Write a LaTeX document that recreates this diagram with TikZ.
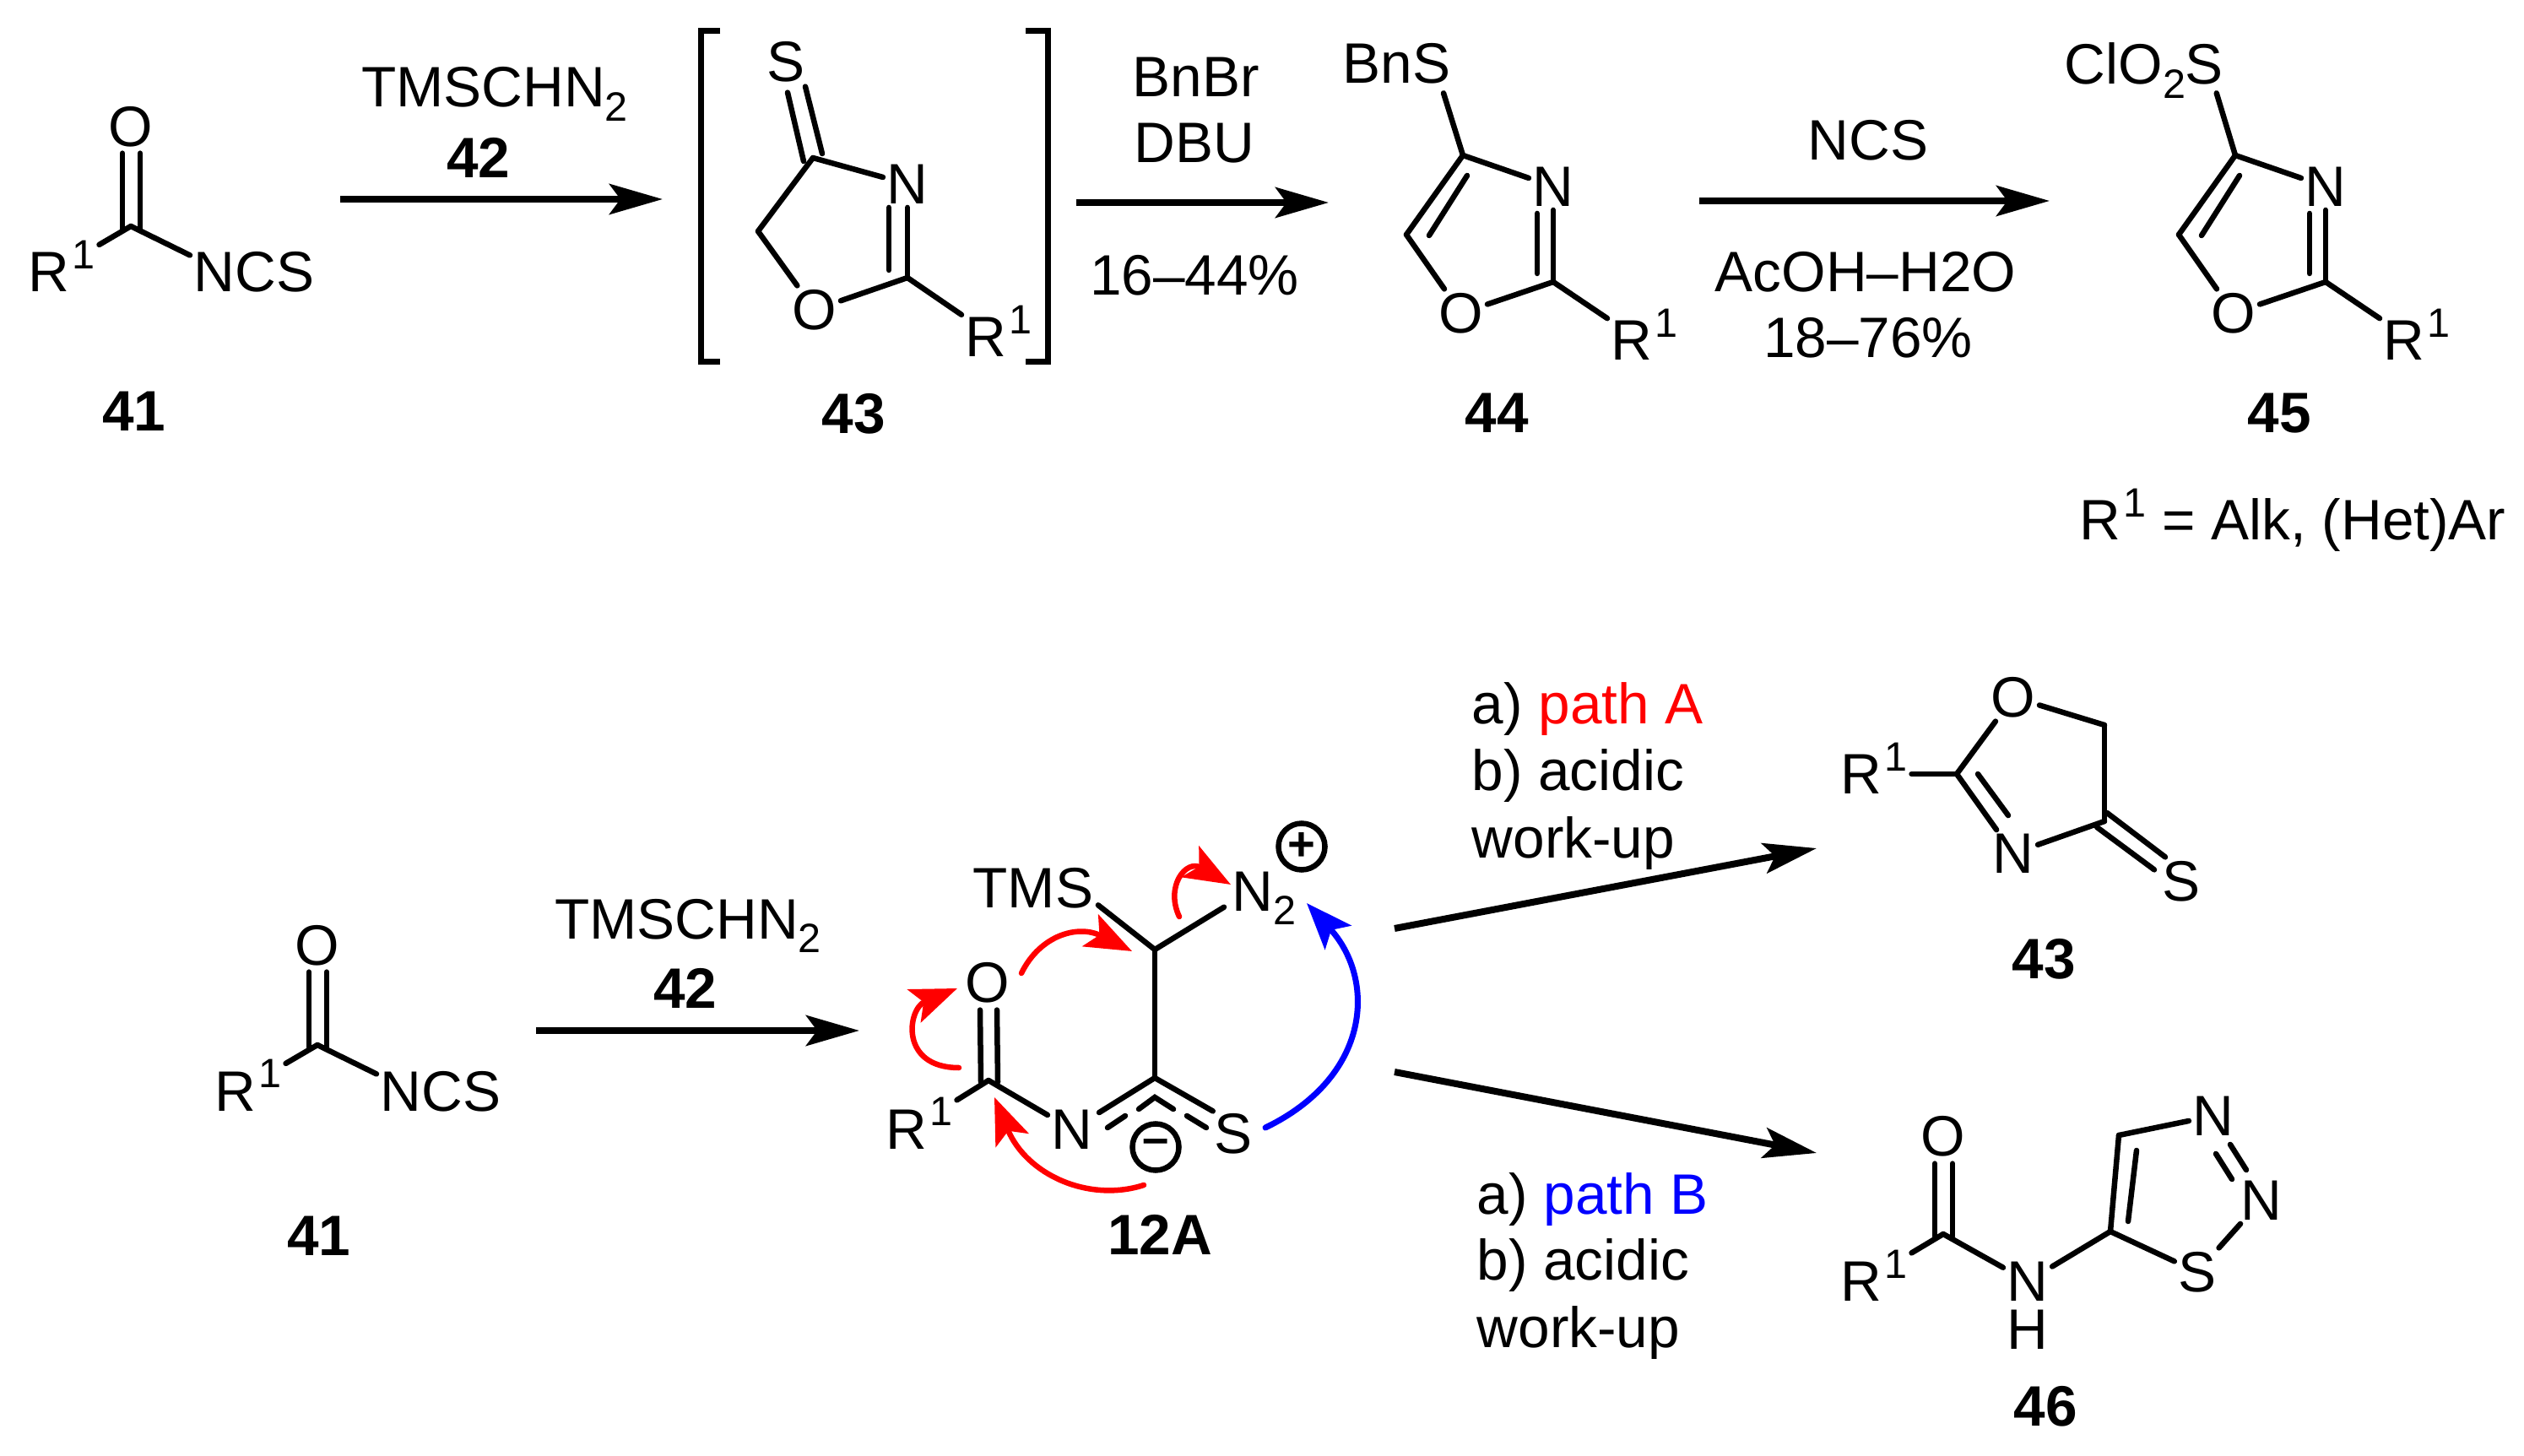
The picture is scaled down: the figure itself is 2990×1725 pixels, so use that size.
\documentclass[tikz,border=0pt]{standalone}
\usepackage{fontspec}
\setmainfont{Liberation Sans}
\usetikzlibrary{arrows.meta,calc}
\tikzset{>=latex}
\newcommand{\chemfont}{\fontsize{19.2}{23}\selectfont}
\newcommand{\supone}{\raisebox{0.4em}{\fontsize{13.8}{14}\selectfont 1}}
\newcommand{\Rone}{R\rlap{\kern0.05em\supone}}
\newcommand{\RoneW}{R\kern0.05em\supone}
\newcommand{\subtwo}{\smash{\raisebox{-0.25em}{\fontsize{13.8}{14}\selectfont 2}}}

\begin{document}
\begin{tikzpicture}[x=0.01cm,y=-0.01cm,font=\chemfont]

        % Setup the styles
        \tikzset{atom style/.style={inner sep=0.04cm},
                 bond style/.style={line width=0.065cm,line cap=round,draw=black},
                 text style/.style={inner sep=0,anchor=base},
                 line style/.style={inner sep=0,anchor=base west},
                 label style/.style={inner sep=0,anchor=base,font=\chemfont\bfseries},
                 charge style/.style={circle,draw=black,line width=0.065cm,inner sep=0,minimum size=0.55cm,font=\fontsize{16}{16}\selectfont\bfseries},
                 bracket style/.style={line width=0.07cm,draw=black},
                 rxn arrow/.style={line width=0.08cm,draw=black,-{Stealth[length=0.63cm,width=0.36cm,inset=0.13cm]}},
                 curly arrow/.style={line width=0.065cm,line cap=round,-{Stealth[length=0.55cm,width=0.42cm,inset=0.12cm]}}}

        \useasboundingbox (0,0) rectangle (2990,1725);

        % Draw compound 41, upper scheme
        \coordinate (c1a) at (155,268);
        \node[atom style] at (155,150) (o1a) {O};
        \node[atom style,anchor=base west] at (29,346) (r1a) {\RoneW};
        \node[atom style,anchor=base west] at (225,346) (ncs1a) {NCS};
        \node[label style] at (159,511) (l41a) {41};
        \draw[bond style] (c1a) -- (r1a);
        \draw[bond style] (c1a) -- (ncs1a.165);
        \draw[bond style] ([shift={(-10,3)}]c1a) -- ([shift={(-10,3)}]o1a.south);
        \draw[bond style] ([shift={(11,3)}]c1a) -- ([shift={(11,3)}]o1a.south);

        % First arrow
        \coordinate (a1s) at (403,236);
        \coordinate (a1e) at (785,236);
        \draw[rxn arrow] (a1s) -- (a1e);
        \node[text style] at (586,127) (t1a) {TMSCHN\subtwo};
        \node[label style] at (567,211) (t1b) {42};

        % Draw compound 43 in brackets
        \draw[bracket style] (853,37) -- (830,37) -- (830,429) -- (853,429);
        \draw[bracket style] (1215,37) -- (1241,37) -- (1241,429) -- (1215,429);
        \coordinate (c4a) at (963,187);
        \coordinate (c5a) at (898,274);
        \coordinate (c2a) at (1075,329);
        \node[atom style] at (931,73) (s1a) {S};
        \node[atom style] at (1075,218) (n3a) {N};
        \node[atom style] at (965,367) (o2a) {O};
        \node[atom style,anchor=base west] at (1139,423) (r2a) {\Rone};
        \node[label style] at (1011,514) (l43a) {43};
        \draw[bond style] (c4a) -- (n3a);
        \draw[bond style] (c4a) -- (c5a);
        \draw[bond style] (c5a) -- (o2a);
        \draw[bond style] (o2a) -- (c2a);
        \draw[bond style] (c2a) -- (n3a.south);
        \draw[bond style] ([shift={(-22,-9)}]c2a) -- ([shift={(-22,0)}]n3a.south);
        \draw[bond style] (c2a) -- (r2a);
        \draw[bond style] ([shift={(-11,4)}]c4a) -- ([shift={(2,8)}]s1a.south);
        \draw[bond style] ([shift={(11,-5)}]c4a) -- ([shift={(23,1)}]s1a.south);

        % Second arrow
        \coordinate (a2s) at (1275,240);
        \coordinate (a2e) at (1574,240);
        \draw[rxn arrow] (a2s) -- (a2e);
        \node[text style] at (1417,115) (t2a) {BnBr};
        \node[text style] at (1415,193) (t2b) {DBU};
        \node[text style] at (1415,350) (t2c) {16–44\%};

        % Draw compound 44
        \coordinate (c4b) at (1733,184);
        \coordinate (c5b) at (1666,278);
        \coordinate (c2b) at (1840,334);
        \node[atom style,anchor=base west] at (1586,99) (s1b) {BnS};
        \node[atom style] at (1840,221) (n3b) {N};
        \node[atom style] at (1731,371) (o2b) {O};
        \node[atom style,anchor=base west] at (1904,427) (r2b) {\Rone};
        \node[label style] at (1773,513) (l44) {44};
        \draw[bond style] (c4b) -- ([shift={(-13,6)}]s1b.south east);
        \draw[bond style] (c4b) -- (n3b);
        \draw[bond style] (c4b) -- (c5b);
        \draw[bond style] ([shift={(5,24)}]c4b) -- ([shift={(27,1)}]c5b);
        \draw[bond style] (c5b) -- (o2b);
        \draw[bond style] (o2b) -- (c2b);
        \draw[bond style] (c2b) -- (n3b.south);
        \draw[bond style] ([shift={(-19,-10)}]c2b) -- ([shift={(-19,4)}]n3b.south);
        \draw[bond style] (c2b) -- (r2b);

        % Third arrow
        \coordinate (a3s) at (2013,238);
        \coordinate (a3e) at (2428,238);
        \draw[rxn arrow] (a3s) -- (a3e);
        \node[text style] at (2213,190) (t3a) {NCS};
        \node[text style] at (2210,346) (t3b) {AcOH–H2O};
        \node[text style] at (2213,424) (t3c) {18–76\%};

        % Draw compound 45
        \coordinate (c4c) at (2648,184);
        \coordinate (c5c) at (2581,278);
        \coordinate (c2c) at (2755,334);
        \node[atom style,anchor=base west] at (2441,100) (s1c) {ClO\subtwo S};
        \node[atom style] at (2755,221) (n3c) {N};
        \node[atom style] at (2646,371) (o2c) {O};
        \node[atom style,anchor=base west] at (2819,427) (r2c) {\Rone};
        \node[label style] at (2700,513) (l45) {45};
        \draw[bond style] (c4c) -- ([shift={(-13,5)}]s1c.south east);
        \draw[bond style] (c4c) -- (n3c);
        \draw[bond style] (c4c) -- (c5c);
        \draw[bond style] ([shift={(5,24)}]c4c) -- ([shift={(27,1)}]c5c);
        \draw[bond style] (c5c) -- (o2c);
        \draw[bond style] (o2c) -- (c2c);
        \draw[bond style] (c2c) -- (n3c.south);
        \draw[bond style] ([shift={(-19,-10)}]c2c) -- ([shift={(-19,4)}]n3c.south);
        \draw[bond style] (c2c) -- (r2c);
        \node[text style] at (2716,640) (def) {\RoneW{} = Alk, (Het)Ar};

        % Draw compound 41, lower scheme
        \coordinate (c1b) at (376,1238);
        \node[atom style] at (376,1120) (o1d) {O};
        \node[atom style,anchor=base west] at (250,1316) (r1d) {\RoneW};
        \node[atom style,anchor=base west] at (446,1316) (ncs1d) {NCS};
        \node[label style] at (378,1487) (l41b) {41};
        \draw[bond style] (c1b) -- (r1d);
        \draw[bond style] (c1b) -- (ncs1d.165);
        \draw[bond style] ([shift={(-10,3)}]c1b) -- ([shift={(-10,3)}]o1d.south);
        \draw[bond style] ([shift={(11,3)}]c1b) -- ([shift={(11,3)}]o1d.south);

        % Fourth arrow
        \coordinate (a4s) at (635,1221);
        \coordinate (a4e) at (1018,1221);
        \draw[rxn arrow] (a4s) -- (a4e);
        \node[text style] at (815,1112) (t4a) {TMSCHN\subtwo};
        \node[label style] at (812,1194) (t4b) {42};

        % Draw intermediate 12A
        \coordinate (cm1) at (1368,1125);
        \coordinate (cm2) at (1368,1277);
        \coordinate (cm3) at (1171,1280);
        \node[atom style,anchor=base west] at (1148,1075) (tms) {TMS};
        \node[atom style,anchor=base west] at (1455,1079) (nn) {N\subtwo};
        \node[atom style] at (1170,1164) (om) {O};
        \node[atom style,anchor=base west] at (1045,1361) (rm) {\RoneW};
        \node[atom style] at (1270,1338) (nm) {N};
        \node[atom style] at (1461,1343) (sm) {S};
        \node[charge style] at (1542,1003) (plus) {+};
        \node[charge style] at (1369,1359) (minus) {–};
        \node[label style] at (1374,1486) (l12a) {12A};
        \draw[bond style] (cm1) -- ([shift={(1,-8)}]tms.south east);
        \draw[bond style] (cm1) -- ([shift={(-5,-9)}]nn.south west);
        \draw[bond style] (cm1) -- (cm2);
        \draw[bond style] (cm3) -- (nm);
        \draw[bond style] (cm3) -- (rm);
        \draw[bond style] ([shift={(-9,2)}]cm3) -- ([shift={(-9,4)}]om.south);
        \draw[bond style] ([shift={(11,2)}]cm3) -- ([shift={(11,4)}]om.south);
        \draw[bond style] (cm2) -- ([shift={(3,8)}]nm.north east);
        \draw[bond style] (cm2) -- ([shift={(3,2)}]sm.north west);
        \draw[bond style] ([shift={(-19,37)}]cm2) -- ([shift={(0,23)}]cm2) -- ([shift={(22,37)}]cm2);
        \draw[bond style] ([shift={(-35,45)}]cm2) -- ([shift={(-56,59)}]cm2);
        \draw[bond style] ([shift={(38,45)}]cm2) -- ([shift={(61,59)}]cm2);

        % Curved arrows on 12A
        \coordinate (ra1s) at (1210,1153);
        \coordinate (ra1e) at (1341,1127);
        \coordinate (ra2s) at (1136,1265);
        \coordinate (ra2e) at (1134,1171);
        \coordinate (ra3s) at (1397,1086);
        \coordinate (ra3e) at (1458,1048);
        \coordinate (ra4s) at (1355,1404);
        \coordinate (ra4e) at (1178,1300);
        \coordinate (ba1s) at (1499,1336);
        \coordinate (ba1e) at (1548,1070);
        \draw[curly arrow,red] (ra1s) .. controls (1232,1108) and (1277,1095) .. (ra1e);
        \draw[curly arrow,red] (ra2s) .. controls (1065,1265) and (1075,1195) .. (ra2e);
        \draw[curly arrow,red] (ra3s) .. controls (1380,1050) and (1405,1018) .. (ra3e);
        \draw[curly arrow,red] (ra4s) .. controls (1290,1425) and (1216,1392) .. (ra4e);
        \draw[curly arrow,blue,line width=0.07cm] (ba1s) .. controls (1625,1275) and (1630,1160) .. (ba1e);

        % Branch arrows and their conditions
        \coordinate (a5s) at (1652,1100);
        \coordinate (a5e) at (2152,1005);
        \coordinate (a6s) at (1652,1270);
        \coordinate (a6e) at (2152,1366);
        \draw[rxn arrow] (a5s) -- (a5e);
        \draw[rxn arrow] (a6s) -- (a6e);
        \node[line style] at (1743,858) (p1) {a) \textcolor{red}{path A}};
        \node[line style] at (1743,936) (p2) {b) acidic};
        \node[line style] at (1743,1016) (p3) {work-up};
        \node[line style] at (1749,1438) (q1) {a) \textcolor{blue}{path B}};
        \node[line style] at (1749,1516) (q2) {b) acidic};
        \node[line style] at (1749,1596) (q3) {work-up};

        % Draw compound 43, lower scheme
        \coordinate (c2d) at (2318,917);
        \coordinate (c4d) at (2493,973);
        \coordinate (c5d) at (2493,859);
        \node[atom style] at (2385,826) (o2d) {O};
        \node[atom style] at (2385,1011) (n3d) {N};
        \node[atom style] at (2584,1044) (s1d) {S};
        \node[atom style,anchor=base west] at (2176,941) (r2d) {\RoneW};
        \node[label style] at (2421,1159) (l43b) {43};
        \draw[bond style] (c2d) -- (o2d);
        \draw[bond style] (o2d) -- (c5d);
        \draw[bond style] (c5d) -- (c4d);
        \draw[bond style] (c4d) -- (n3d);
        \draw[bond style] (c2d) -- (n3d);
        \draw[bond style] ([shift={(25,0)}]c2d) -- ([shift={(-6,-17)}]n3d.north);
        \draw[bond style] (c2d) -- (c2d -| r2d.east);
        \draw[bond style] ([shift={(3,-10)}]c4d) -- ([shift={(-19,0)}]s1d.north);
        \draw[bond style] ([shift={(-9,7)}]c4d) -- ([shift={(-32,15)}]s1d.north);

        % Draw compound 46
        \coordinate (c6e) at (2302,1462);
        \coordinate (c4e) at (2510,1345);
        \coordinate (c5e) at (2500,1459);
        \node[atom style] at (2302,1346) (o1e) {O};
        \node[atom style,anchor=base west] at (2176,1541) (r1e) {\RoneW};
        \node[atom style] at (2402,1518) (n1e) {N};
        \node[atom style,inner sep=0] at (2402,1575) (h1e) {H};
        \node[atom style] at (2603,1507) (s1e) {S};
        \node[atom style] at (2679,1422) (n3e) {N};
        \node[atom style] at (2622,1322) (n2e) {N};
        \node[label style] at (2423,1689) (l46) {46};
        \draw[bond style] ([shift={(-10,3)}]c6e) -- ([shift={(-10,4)}]o1e.south);
        \draw[bond style] ([shift={(11,3)}]c6e) -- ([shift={(11,4)}]o1e.south);
        \draw[bond style] (c6e) -- (r1e);
        \draw[bond style] (c6e) -- (n1e);
        \draw[bond style] (n1e) -- (c5e);
        \draw[bond style] (c5e) -- (s1e);
        \draw[bond style] (s1e) -- (n3e);
        \draw[bond style] ([shift={(20,6)}]n2e.south) -- ([shift={(-18,-8)}]n3e.north);
        \draw[bond style] ([shift={(3,17)}]n2e.south) -- ([shift={(-35,3)}]n3e.north);
        \draw[bond style] (n2e) -- (c4e);
        \draw[bond style] (c4e) -- (c5e);
        \draw[bond style] ([shift={(21,18)}]c4e) -- ([shift={(21,-12)}]c5e);

\end{tikzpicture}
\end{document}
